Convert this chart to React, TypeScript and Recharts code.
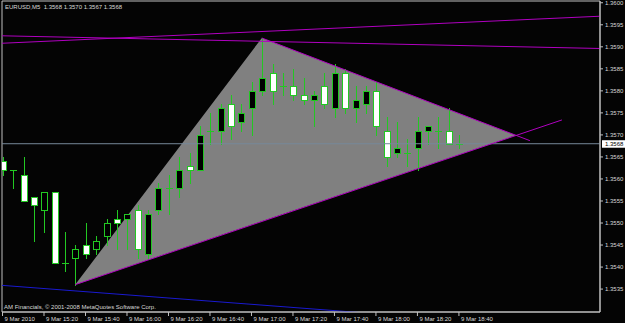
import { ComposedChart, Bar, Area, Line, XAxis, YAxis, ReferenceLine, ReferenceArea } from "recharts";

const SYMBOL = "EURUSD,M5";
const COPYRIGHT = "AM Financials, © 2001-2008 MetaQuotes Software Corp.";

// M5 bars from 9 Mar 2010 15:00 to 18:40
const open = [
  1.3564, 1.3562, 1.3561, 1.3556, 1.3553, 1.3557, 1.3541, 1.3542, 1.3545, 1.3544,
  1.3547, 1.3551, 1.3551, 1.3553, 1.3543, 1.3553, 1.3558, 1.3558, 1.3563, 1.3562,
  1.3571, 1.3571, 1.3577, 1.3573, 1.3576, 1.358, 1.3584, 1.3581, 1.3581, 1.3579,
  1.3578, 1.3581, 1.3576, 1.3584, 1.3576, 1.3577, 1.358, 1.3571, 1.3566, 1.3566,
  1.3567, 1.3571, 1.3571, 1.3571, 1.3568,
];
const high = [
  1.3565, 1.3562, 1.3565, 1.3556, 1.3557, 1.3557, 1.3548, 1.3545, 1.355, 1.3547,
  1.3551, 1.3553, 1.3552, 1.3554, 1.3553, 1.3559, 1.3561, 1.3565, 1.3566, 1.3572,
  1.3575, 1.3577, 1.3579, 1.3577, 1.3582, 1.3592, 1.3586, 1.3584, 1.3585, 1.3583,
  1.358, 1.3584, 1.3586, 1.3585, 1.3581, 1.3581, 1.3582, 1.3574, 1.3573, 1.3569,
  1.3574, 1.3572, 1.3574, 1.3576, 1.357,
];
const low = [
  1.3561, 1.3558, 1.3555, 1.3546, 1.3548, 1.3541, 1.3539, 1.3536, 1.3542, 1.3543,
  1.3545, 1.3544, 1.3544, 1.3542, 1.3542, 1.3552, 1.3552, 1.3556, 1.3559, 1.3562,
  1.3568, 1.3568, 1.3569, 1.3571, 1.357, 1.3579, 1.3577, 1.3579, 1.3578, 1.3577,
  1.3572, 1.3576, 1.3574, 1.3575, 1.3573, 1.3575, 1.357, 1.3563, 1.3565, 1.3563,
  1.3562, 1.3568, 1.3567, 1.3568, 1.3567,
];
const close = [
  1.3562, 1.3562, 1.3555, 1.3554, 1.3557, 1.3541, 1.3541, 1.3544, 1.3543, 1.3546,
  1.355, 1.355, 1.3552, 1.3544, 1.3552, 1.3558, 1.3558, 1.3562, 1.3562, 1.357,
  1.3571, 1.3576, 1.3572, 1.3575, 1.358, 1.3583, 1.358, 1.3581, 1.3579, 1.3578,
  1.3579, 1.3577, 1.3584, 1.3576, 1.3578, 1.358, 1.3572, 1.3565, 1.3567, 1.3566,
  1.3571, 1.3572, 1.3571, 1.3568, 1.3568,
];

const tickBars = [0, 4, 8, 12, 16, 20, 24, 28, 32, 36, 40, 44];
const tickLabels = [
  "9 Mar 2010", "9 Mar 15:20", "9 Mar 15:40", "9 Mar 16:00", "9 Mar 16:20", "9 Mar 16:40",
  "9 Mar 17:00", "9 Mar 17:20", "9 Mar 17:40", "9 Mar 18:00", "9 Mar 18:20", "9 Mar 18:40",
];
const priceTicks = [
  1.3535, 1.354, 1.3545, 1.355, 1.3555, 1.356, 1.3565, 1.357, 1.3575, 1.358, 1.3585, 1.359, 1.3595, 1.36,
];
const lastPrice = 1.3568;

// drawn objects, as (bar index, price)
const triangle = [
  { i: 7, r: [1.3536, 1.3536] },
  { i: 25, r: [1.35504, 1.3592] },
  { i: 49.5, r: [1.35699, 1.35699] },
];
const triUpper = [{ i: 25, p: 1.3592 }, { i: 50.84, p: 1.35687 }];
const triLower = [{ i: 7, p: 1.3536 }, { i: 53.93, p: 1.35734 }];
const channelA = [{ i: -2, p: 1.35926 }, { i: 60, p: 1.35895 }];
const channelB = [{ i: -2, p: 1.35906 }, { i: 60, p: 1.35972 }];
const blueLine = [{ i: -2, p: 1.35362 }, { i: 36, p: 1.35294 }];

const X_DOMAIN = [-0.05, 57.6];
const Y_DOMAIN = [1.35298, 1.36004];

const BG = "#040404";
const GREEN = "#22c822";
const MAGENTA = "#b000c0";
const FRAME = "#c0c0c0";
const TEXT = "#d8d8d8";
const FONT = "'Liberation Sans', Arial, sans-serif";

const candles = open.map((o, i) => ({
  i,
  o,
  h: high[i],
  l: low[i],
  c: close[i],
  range: [low[i], high[i]],
}));

const Candle = (props: any) => {
  const { x, y, width, height, payload } = props;
  if (x == null || y == null || !payload) return null;
  const { o, h, l, c } = payload;
  const top = Math.min(y, y + height);
  const bot = Math.max(y, y + height);
  const py = (p: number) => (h === l ? top : top + ((h - p) / (h - l)) * (bot - top));
  const cx = Math.round(x + width / 2) + 0.5;
  const yo = Math.round(py(o));
  const yc = Math.round(py(c));
  return (
    <g shapeRendering="crispEdges">
      <line x1={cx} x2={cx} y1={Math.round(top)} y2={Math.round(bot) + 1} stroke={GREEN} />
      {o === c ? (
        <line x1={cx - 3.5} x2={cx + 3.5} y1={yo + 0.5} y2={yo + 0.5} stroke={GREEN} />
      ) : (
        <rect
          x={cx - 3}
          y={Math.min(yo, yc) + 0.5}
          width={6}
          height={Math.abs(yc - yo)}
          fill={c < o ? "#ffffff" : "#000000"}
          stroke={GREEN}
        />
      )}
    </g>
  );
};

const TimeTick = (props: any) => {
  const { x, y, payload } = props;
  const k = tickBars.indexOf(payload.value);
  return (
    <text x={x + 2} y={y + 3.5} fill={TEXT} fontSize={6} fontFamily={FONT} textAnchor="start">
      {tickLabels[k]}
    </text>
  );
};

const PriceTag = (props: any) => {
  const vb = props.viewBox || {};
  const right = (vb.x || 0) + (vb.width || 0);
  const cy = vb.y || 0;
  return (
    <g>
      <rect x={right + 2} y={cy - 3.5} width={23} height={7.5} fill="#ffffff" />
      <text x={right + 5} y={cy + 2.2} fill="#000000" fontSize={6} fontFamily={FONT}>
        {lastPrice.toFixed(4)}
      </text>
    </g>
  );
};

export default function App() {
  const last = candles[candles.length - 1];
  const title = `${SYMBOL}  ${last.o.toFixed(4)} ${last.h.toFixed(4)} ${last.l.toFixed(4)} ${last.c.toFixed(4)}`;
  return (
    <div style={{ position: "fixed", left: 0, top: 0, width: 625, height: 323, background: BG }}>
      <ComposedChart
        width={625}
        height={323}
        data={candles}
        margin={{ top: 1, left: 2, right: 0, bottom: 0 }}
      >
        <XAxis
          dataKey="i"
          type="number"
          domain={X_DOMAIN}
          allowDataOverflow
          ticks={tickBars}
          interval={0}
          height={11}
          tickSize={4}
          tickMargin={1}
          tick={<TimeTick />}
          stroke={FRAME}
          tickLine={{ stroke: FRAME }}
        />
        <YAxis
          orientation="right"
          type="number"
          domain={Y_DOMAIN}
          allowDataOverflow
          ticks={priceTicks}
          interval={0}
          width={25}
          tickSize={3}
          tickMargin={2}
          tickFormatter={(v: number) => v.toFixed(4)}
          tick={{ fill: TEXT, fontSize: 6, fontFamily: FONT }}
          stroke={FRAME}
          tickLine={{ stroke: FRAME }}
        />
        <ReferenceArea
          x1={X_DOMAIN[0]}
          x2={X_DOMAIN[1]}
          y1={Y_DOMAIN[0]}
          y2={Y_DOMAIN[1]}
          fill="none"
          stroke={FRAME}
          ifOverflow="visible"
        />
        <Area
          data={triangle}
          dataKey="r"
          type="linear"
          fill="#808080"
          fillOpacity={1}
          stroke="none"
          dot={false}
          activeDot={false}
          isAnimationActive={false}
        />
        <ReferenceLine y={lastPrice} stroke="#778899" label={<PriceTag />} />
        <Bar dataKey="range" barSize={7} shape={<Candle />} isAnimationActive={false} />
        <Line data={channelA} dataKey="p" type="linear" stroke={MAGENTA} dot={false} activeDot={false} isAnimationActive={false} />
        <Line data={channelB} dataKey="p" type="linear" stroke={MAGENTA} dot={false} activeDot={false} isAnimationActive={false} />
        <Line data={triUpper} dataKey="p" type="linear" stroke={MAGENTA} dot={false} activeDot={false} isAnimationActive={false} />
        <Line data={triLower} dataKey="p" type="linear" stroke={MAGENTA} dot={false} activeDot={false} isAnimationActive={false} />
        <Line data={blueLine} dataKey="p" type="linear" stroke="#1a1ad0" dot={false} activeDot={false} isAnimationActive={false} />
      </ComposedChart>
      <svg width={625} height={323} style={{ position: "absolute", left: 0, top: 0, pointerEvents: "none" }}>
        <text x={5} y={8.5} fill={TEXT} fontSize={6} fontFamily={FONT} style={{ whiteSpace: "pre" }}>
          {title}
        </text>
        <text x={4} y={309} fill={TEXT} fontSize={6} fontFamily={FONT}>
          {COPYRIGHT}
        </text>
      </svg>
    </div>
  );
}
